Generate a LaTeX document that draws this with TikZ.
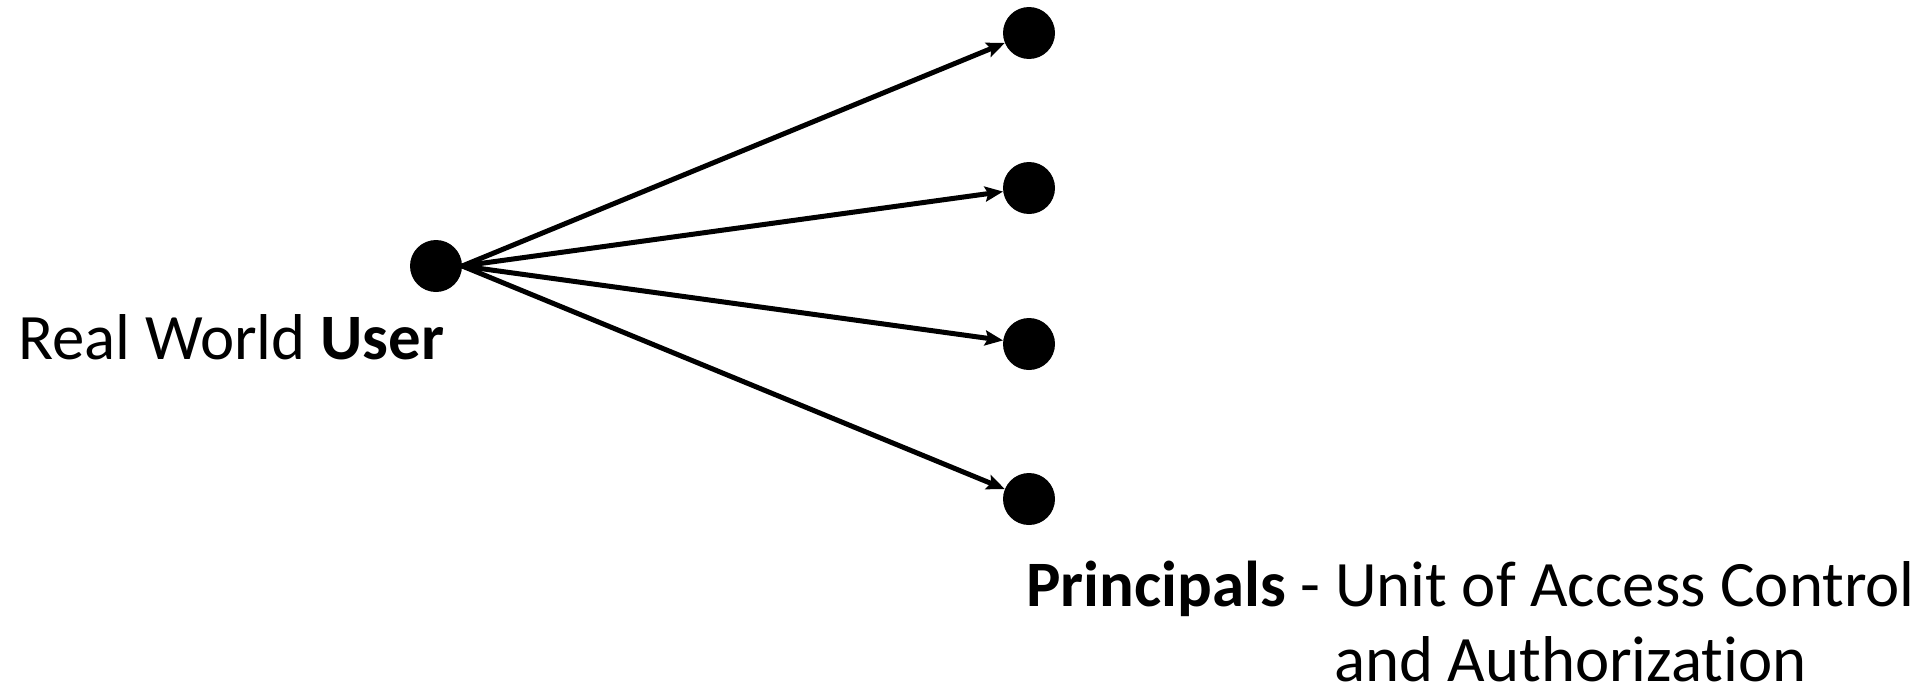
\documentclass[tikz,border=0pt]{standalone}
\usepackage{fontspec}
\setmainfont{Carlito}[RawFeature=-liga]
\usetikzlibrary{arrows.meta}

\tikzset{
  dot/.style={circle, fill=black, inner sep=0pt, minimum size=52pt},
  link/.style={line width=5pt, -{Stealth[length=18pt,width=15pt,inset=3pt]}},
  label/.style={anchor=base west, inner sep=0pt, font=\fontsize{64.8}{77}\selectfont}
}

\begin{document}
\begin{tikzpicture}[x=1pt,y=-1pt]
\useasboundingbox (0,0) rectangle (1931,688);

% the user
\node[dot] (user) at (436,266) {};
\node[label] (userlabel) at (18,359) {Real World \textbf{User}};

% the principals
\node[dot] (p1) at (1029,33) {};
\node[dot] (p2) at (1029,188) {};
\node[dot] (p3) at (1029,344) {};
\node[dot] (p4) at (1029,499) {};

% one user maps to many principals
\draw[link] (user.east) -- (p1);
\draw[link] (user.east) -- (p2);
\draw[link] (user.east) -- (p3);
\draw[link] (user.east) -- (p4);

\node[label] (plabel) at (1026,606) {\textbf{Principals} - Unit of Access Control};
\node[label] (plabel2) at (1334,681) {and Authorization};
\end{tikzpicture}
\end{document}
